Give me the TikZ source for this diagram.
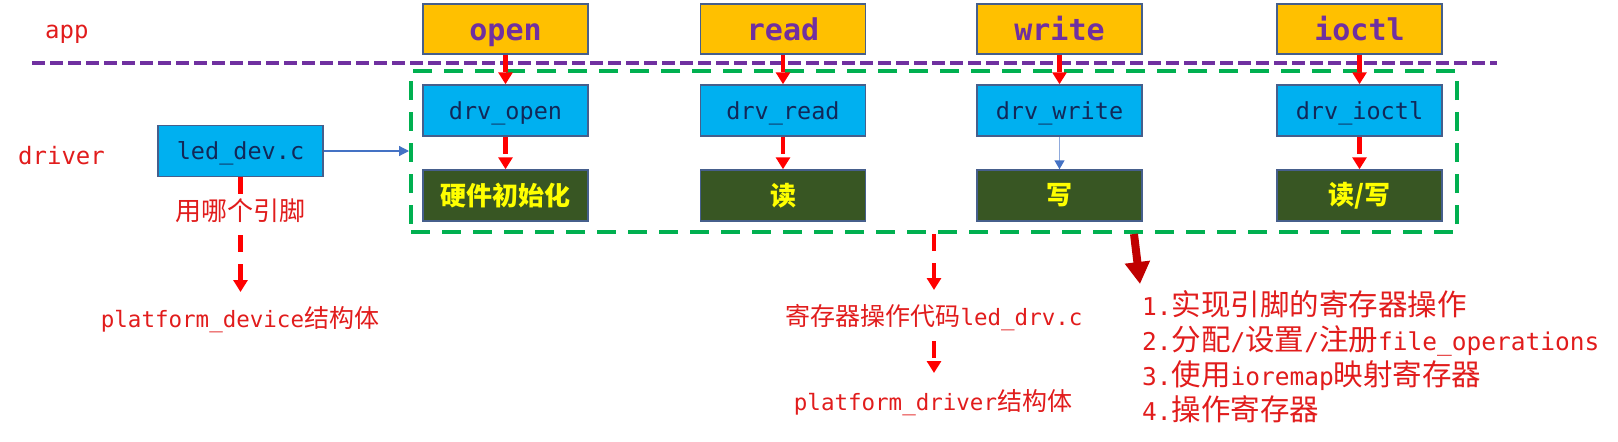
\documentclass[tikz,border=0pt]{standalone}
\usepackage{fontspec}
\setmainfont{DejaVu Sans}
\newfontfamily\mono{DejaVu Sans Mono}
\newfontfamily\cjk{Noto Sans CJK SC}
\usetikzlibrary{arrows.meta}
\definecolor{ybox}{RGB}{255,192,0}
\definecolor{cyanb}{RGB}{0,176,240}
\definecolor{dgreen}{RGB}{56,86,35}
\definecolor{yel}{RGB}{255,255,0}
\definecolor{purp}{RGB}{112,48,160}
\definecolor{gdash}{RGB}{0,176,80}
\definecolor{bordc}{RGB}{70,95,140}
\definecolor{navy}{RGB}{18,40,88}
\definecolor{redt}{RGB}{225,28,28}
\definecolor{redarr}{RGB}{255,0,0}
\definecolor{darkredarr}{RGB}{192,0,0}
\definecolor{bluearr}{RGB}{68,114,196}
\definecolor{bluelight}{RGB}{143,170,220}
\newcommand\lat[1]{{\mono\fontsize{22.5}{26}\selectfont #1}}
\newcommand\latb[1]{{\mono\fontsize{24.5}{35}\selectfont #1}}
\begin{document}
\begin{tikzpicture}[x=1pt,y=-1pt,
  appbox/.style={draw=bordc, line width=1.5pt, fill=ybox, minimum width=165pt, minimum height=50pt, inner sep=0pt, text height=25pt, text depth=3pt, text=purp, font=\mono\bfseries\fontsize{30}{30}\selectfont},
  drvbox/.style={draw=bordc, line width=1.5pt, fill=cyanb, minimum width=165pt, minimum height=51pt, inner sep=0pt, text height=19pt, text depth=2pt, text=navy, font=\mono\fontsize{23.5}{24}\selectfont},
  hwbox/.style={draw=bordc, line width=1.5pt, fill=dgreen, minimum width=165pt, minimum height=51pt, inner sep=0pt, text=yel, font=\cjk\bfseries\fontsize{26}{26}\selectfont},
  lbl/.style={text=redt, inner sep=0pt, font=\cjk\fontsize{25}{30}\selectfont},
  sidelbl/.style={text=redt, inner sep=0pt, font=\mono\fontsize{24}{24}\selectfont},
  redarrow/.style={draw=redarr, line width=4.5pt, dash pattern=on 17pt off 12pt, -{Triangle[length=12pt,width=14pt]}},
  bluearrow/.style={draw=bluearr, line width=1.2pt, -{Triangle[length=10pt,width=10pt]}},
  thinarrow/.style={draw=bluelight, line width=1.5pt, -{Triangle[length=9pt,width=10pt,color=bluearr,fill=bluearr]}},
  bigarrow/.style={draw=darkredarr, line width=8pt, -{Triangle[length=22pt,width=24pt]}}
]
\useasboundingbox (0,0) rectangle (1618,442);
% layer separation line
\coordinate (pl) at (32,63);
\coordinate (pr) at (1497,63);
\draw[purp, line width=4pt, dash pattern=on 13pt off 5pt] (pl) -- (pr);
% driver frame
\node[draw=gdash, line width=4pt, dash pattern=on 19pt off 12pt, minimum width=1046pt, minimum height=161pt, inner sep=0pt] (frame) at (934,151.5) {};
% side labels
\node[sidelbl, anchor=base west] (app) at (45,38) {app};
\node[sidelbl, anchor=base west] (drv) at (18,164) {driver};
% app boxes
\node[appbox] (open) at (505.5,29) {open};
\node[appbox] (read) at (783,29) {read};
\node[appbox] (write) at (1059.5,29) {write};
\node[appbox] (ioctl) at (1359.5,29) {ioctl};
% driver boxes
\node[drvbox] (dopen) at (505.5,110.5) {drv\_open};
\node[drvbox] (dread) at (783,110.5) {drv\_read};
\node[drvbox] (dwrite) at (1059.5,110.5) {drv\_write};
\node[drvbox] (dioctl) at (1359.5,110.5) {drv\_ioctl};
% hardware boxes
\node[hwbox] (hopen) at (505.5,195.5) {硬件初始化};
\node[hwbox] (hread) at (783,195.5) {读};
\node[hwbox] (hwrite) at (1059.5,195.5) {写};
\node[hwbox] (hioctl) at (1359.5,195.5) {读/写};
% led_dev.c
\node[drvbox] (led) at (240.5,151) {led\_dev.c};
% arrows app -> driver
\draw[redarrow] (open.south) -- (dopen.north);
\draw[redarrow] (read.south) -- (dread.north);
\draw[redarrow] (write.south) -- (dwrite.north);
\draw[redarrow] (ioctl.south) -- (dioctl.north);
\draw[redarrow] (dopen.south) -- (hopen.north);
\draw[redarrow] (dread.south) -- (hread.north);
\draw[thinarrow] (dwrite.south) -- (hwrite.north);
\draw[redarrow] (dioctl.south) -- (hioctl.north);
% led_dev.c -> frame
\draw[bluearrow] (led.east) -- (led.east -| frame.west);
% led_dev.c down
\coordinate (pdtip) at (240.5,292);
\draw[redarrow] (led.south) -- (pdtip);
\node[lbl, fill=white, inner sep=1pt, font=\cjk\fontsize{26}{30}\selectfont] (pin) at (240,211) {用哪个引脚};
\node[lbl] (pdev) at (240,320) {\lat{platform\_device}结构体};
% frame down
\coordinate (t2) at (934,290);
\draw[redarrow] (frame.south) -- (t2);
\node[lbl] (reg) at (934,318) {寄存器操作代码\lat{led\_drv.c}};
\coordinate (s3) at (934,341);
\coordinate (t3) at (934,373);
\draw[redarrow] (s3) -- (t3);
\node[lbl] (pdrv) at (933,403) {\lat{platform\_driver}结构体};
% big dark red arrow
\coordinate (ds) at (1134,234);
\coordinate (dt) at (1140,284);
\draw[bigarrow] (ds) -- (dt);
\node[text=redt, inner sep=0pt, anchor=north west, align=left, font=\cjk\fontsize{29.5}{35}\selectfont] (list) at (1142,290)
 {\latb{1.}实现引脚的寄存器操作\\
  \latb{2.}分配\latb{/}设置\latb{/}注册\latb{file\_operations}\\
  \latb{3.}使用\latb{ioremap}映射寄存器\\
  \latb{4.}操作寄存器};
\end{tikzpicture}
\end{document}
